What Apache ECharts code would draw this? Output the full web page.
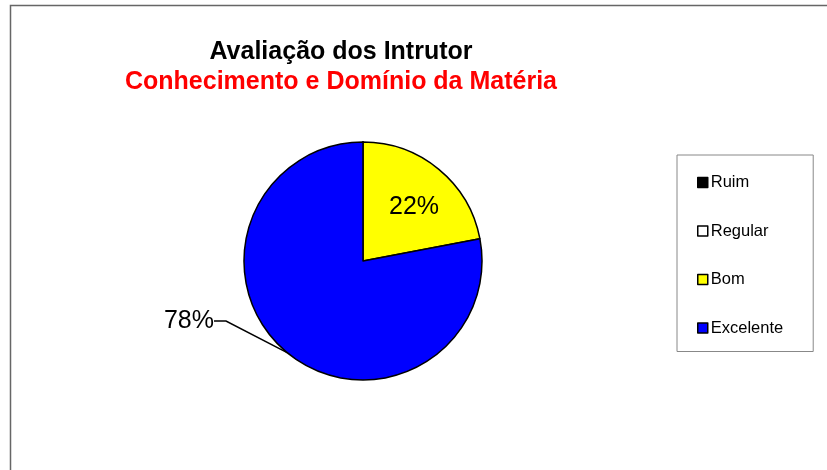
<!DOCTYPE html>
<html>
<head>
<meta charset="utf-8">
<script src="https://cdn.jsdelivr.net/npm/echarts@6/dist/echarts.min.js"></script>
<style>
  html, body { margin: 0; padding: 0; background: #fff; }
  #chart { width: 827px; height: 470px; }
</style>
</head>
<body>
<div id="chart"></div>
<script>
const categories = ['Ruim', 'Regular', 'Bom', 'Excelente']
const values = [0, 0, 22, 78]
const colors = ['#000000', '#ffffff', '#ffff00', '#0000ff']

const font = '"Liberation Sans", Arial, sans-serif'
const chart = echarts.init(document.getElementById('chart'))

const option = {
  animation: false,
  graphic: [{
    type: 'rect',
    shape: { x: 10.5, y: 5.5, width: 1000, height: 1000 },
    style: { fill: 'none', stroke: '#666', lineWidth: 1.5 },
    silent: true
  }],
  title: [
    {
      text: 'Avaliação dos Intrutor',
      left: 341,
      top: 40,
      textAlign: 'center',
      padding: 0,
      textStyle: { fontFamily: font, fontSize: 25, fontWeight: 'bold', color: '#000' }
    },
    {
      text: 'Conhecimento e Domínio da Matéria',
      left: 341,
      top: 70,
      textAlign: 'center',
      padding: 0,
      textStyle: { fontFamily: font, fontSize: 25, fontWeight: 'bold', color: '#ff0000' }
    }
  ],
  legend: {
    orient: 'vertical',
    left: 677,
    top: 155,
    padding: [19, 30, 15, 20],
    itemGap: 31.5,
    itemWidth: 10,
    itemHeight: 10,
    icon: 'rect',
    borderColor: '#888',
    borderWidth: 1,
    borderRadius: 0,
    data: categories,
    textStyle: { fontFamily: font, fontSize: 16.5, color: '#000', padding: [0, 0, 0, -2] },
    itemStyle: { borderColor: '#000', borderWidth: 1.5 }
  },
  series: [{
    type: 'pie',
    center: [363, 261],
    radius: 119,
    startAngle: 90,
    clockwise: true,
    avoidLabelOverlap: false,
    itemStyle: { borderColor: '#000', borderWidth: 1.5 },
    label: {
      fontFamily: font,
      fontSize: 25,
      color: '#000',
      formatter: p => Math.round(p.percent) + '%'
    },
    labelLine: {
      lineStyle: { color: '#000', width: 1.5 },
      length: 20,
      length2: 12
    },
    labelLayout: function (params) {
      if (params.dataIndex === 2) {
        return { x: 414, y: 207, align: 'center', verticalAlign: 'middle' }
      }
      if (params.dataIndex === 3) {
        return { x: 214, y: 321, align: 'right', verticalAlign: 'middle' }
      }
    },
    data: categories.map((name, i) => ({
      name: name,
      value: values[i],
      itemStyle: { color: colors[i] },
      label: {
        show: values[i] > 0,
        position: i === 2 ? 'inside' : 'outside'
      },
      labelLine: { show: values[i] > 0 && i !== 2 }
    }))
  }]
}

chart.setOption(option)
window.addEventListener('resize', () => chart.resize())
</script>
</body>
</html>
